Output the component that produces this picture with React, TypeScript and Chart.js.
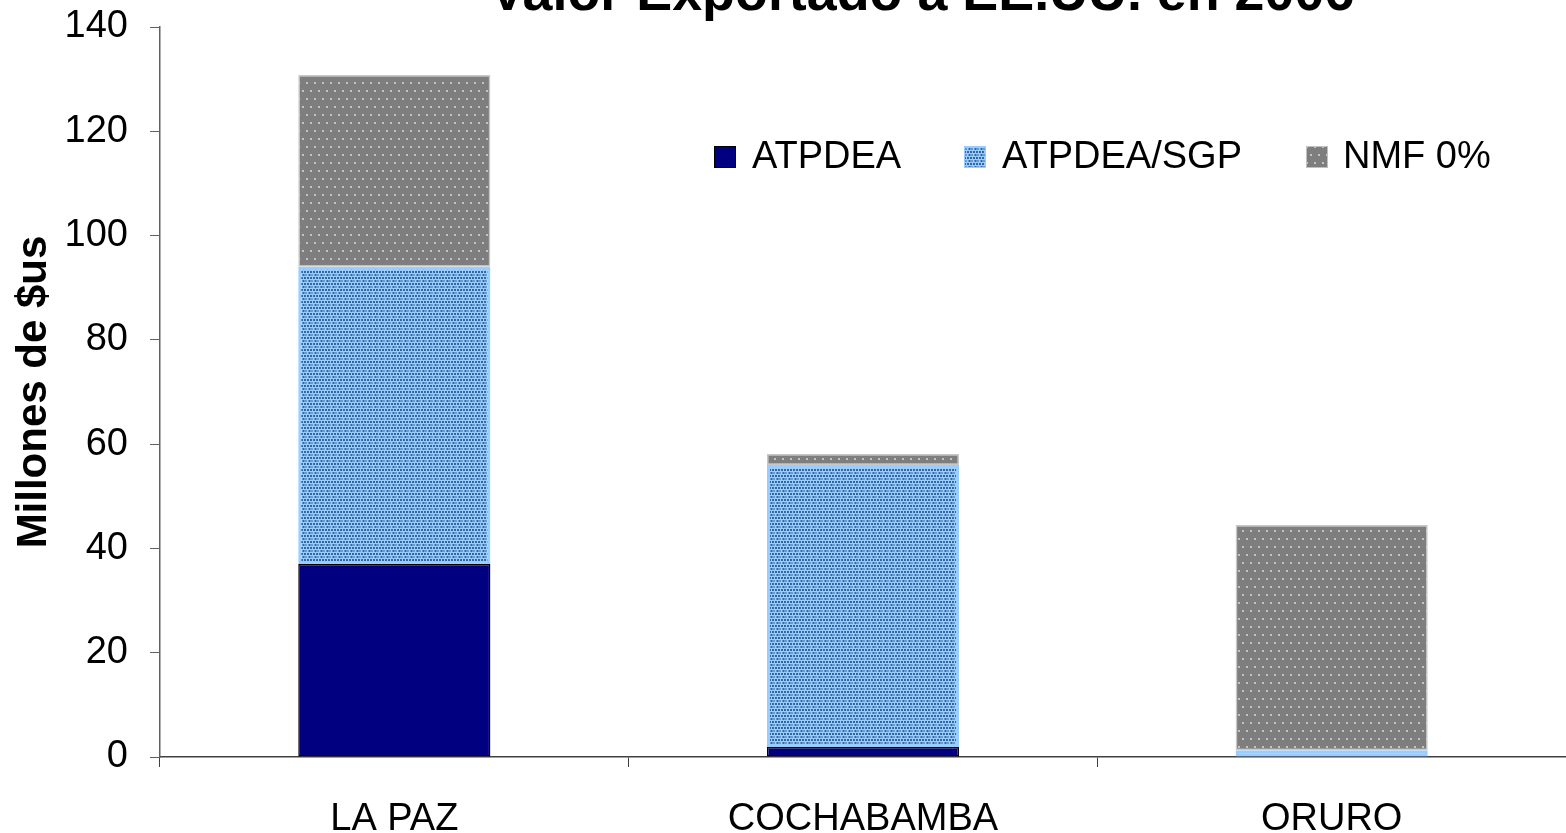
import React, { useEffect, useRef } from "react";
import { Chart, registerables } from "chart.js";

Chart.register(...registerables);

const TITLE = "Valor Exportado a EE.UU. en 2006";
const Y_TITLE = "Millones de $us";
const CATEGORIES = ["LA PAZ", "COCHABAMBA", "ORURO"];
const SERIES_NAMES = ["ATPDEA", "ATPDEA/SGP", "NMF 0%"];
const ATPDEA = [37.0, 1.9, 0];
const ATPDEA_SGP = [57.0, 54.1, 1.3];
const NMF = [36.8, 2.1, 43.2];
const Y_MIN = 0;
const Y_MAX = 140;
const Y_STEP = 20;

const FONT = "'Liberation Sans', Arial, sans-serif";

function makePattern(kind: "blue" | "gray"): CanvasPattern | string {
  const c = document.createElement("canvas");
  if (kind === "gray") {
    c.width = 8;
    c.height = 16;
    const g = c.getContext("2d")!;
    g.fillStyle = "#7e7e7e";
    g.fillRect(0, 0, 8, 16);
    g.fillStyle = "#c4c4c4";
    g.fillRect(2, 2, 2, 2);
    g.fillRect(6, 10, 2, 2);
  } else {
    c.width = 6;
    c.height = 6;
    const g = c.getContext("2d")!;
    g.fillStyle = "#99ccff";
    g.fillRect(0, 0, 6, 6);
    g.fillStyle = "#35679f";
    g.fillRect(1, 1, 2, 2);
    g.fillRect(4, 1, 2, 2);
    g.fillRect(2.5, 4, 2, 2);
    g.fillRect(5.5, 4, 0.5, 2);
    g.fillRect(0, 4, 0.5, 2);
  }
  const ctx = c.getContext("2d")!;
  return ctx.createPattern(c, "repeat") || (kind === "gray" ? "#808080" : "#99ccff");
}

const titlePlugin = {
  id: "cutTitle",
  afterDraw(chart: any) {
    const ctx = chart.ctx;
    ctx.save();
    ctx.font = `bold 100px ${FONT}`;
    const w = ctx.measureText(TITLE).width;
    const size = (100 * 865) / w;
    ctx.font = `bold ${size}px ${FONT}`;
    ctx.fillStyle = "#000";
    ctx.textAlign = "center";
    ctx.textBaseline = "alphabetic";
    ctx.fillText(TITLE, 922, 10);
    ctx.restore();
  },
};

const legendPlugin = {
  id: "inLegend",
  afterDraw(chart: any) {
    const ctx = chart.ctx;
    const items = [
      { box: 714, text: 752 },
      { box: 964, text: 1002 },
      { box: 1306, text: 1343 },
    ];
    const y = 157;
    ctx.save();
    ctx.font = `38px ${FONT}`;
    ctx.textBaseline = "middle";
    ctx.textAlign = "left";
    chart.data.datasets.forEach((ds: any, i: number) => {
      const it = items[i];
      ctx.fillStyle = ds.backgroundColor;
      ctx.fillRect(it.box, y - 11, 22, 22);
      ctx.lineWidth = 1;
      ctx.strokeStyle = i === 0 ? "#000" : i === 1 ? "#99ccff" : "#c0c0c0";
      ctx.strokeRect(it.box + 0.5, y - 10.5, 21, 21);
      ctx.fillStyle = "#000";
      ctx.fillText(ds.label, it.text, y + 1);
    });
    ctx.restore();
  },
};

export default function App() {
  const ref = useRef<HTMLCanvasElement | null>(null);
  useEffect(() => {
    if (!ref.current) return;
    const blue = makePattern("blue");
    const gray = makePattern("gray");
    const chart = new Chart(ref.current, {
      type: "bar",
      data: {
        labels: CATEGORIES,
        datasets: [
          {
            label: SERIES_NAMES[0],
            data: ATPDEA,
            backgroundColor: "#000080",
            borderColor: "#000000",
            borderWidth: 1.5,
            borderSkipped: false,
          },
          {
            label: SERIES_NAMES[1],
            data: ATPDEA_SGP,
            backgroundColor: blue as any,
            borderColor: "#99ccff",
            borderWidth: 3,
            borderSkipped: false,
          },
          {
            label: SERIES_NAMES[2],
            data: NMF,
            backgroundColor: gray as any,
            borderColor: "#c8c8c8",
            borderWidth: 1.5,
            borderSkipped: false,
          },
        ],
      },
      options: {
        responsive: false,
        animation: false,
        maintainAspectRatio: false,
        layout: { padding: { top: 27, left: 0, right: 0, bottom: 0 } },
        datasets: { bar: { barPercentage: 0.41, categoryPercentage: 1 } } as any,
        plugins: {
          legend: { display: false },
          title: { display: false },
          tooltip: { enabled: false },
        },
        scales: {
          x: {
            stacked: true,
            offset: true,
            grid: {
              display: true,
              offset: true,
              drawOnChartArea: false,
              drawTicks: true,
              tickLength: 10,
              color: "#404040",
              lineWidth: 1,
            },
            border: { display: true, color: "#404040", width: 1.5 },
            ticks: {
              color: "#000",
              font: { family: FONT, size: 38 },
              padding: 30,
              maxRotation: 0,
              autoSkip: false,
            },
            afterFit(scale: any) {
              scale.height = 76;
              scale.paddingLeft = 0;
              scale.paddingRight = 0;
            },
          },
          y: {
            stacked: true,
            min: Y_MIN,
            max: Y_MAX,
            grid: {
              display: true,
              drawOnChartArea: false,
              drawTicks: true,
              tickLength: 10,
              color: "#606060",
              lineWidth: 1,
            },
            border: { display: true, color: "#606060", width: 1.5 },
            ticks: {
              stepSize: Y_STEP,
              color: "#000",
              font: { family: FONT, size: 38 },
              padding: 22,
            },
            title: {
              display: true,
              text: Y_TITLE,
              color: "#000",
              font: { family: FONT, size: 42, weight: "bold" },
              padding: { top: 9, bottom: 0 },
            },
            afterFit(scale: any) {
              scale.width = 160;
              scale.paddingTop = 0;
              scale.paddingBottom = 0;
            },
          },
        },
      },
      plugins: [titlePlugin, legendPlugin],
    });
    return () => chart.destroy();
  }, []);
  return (
    <div style={{ position: "fixed", left: 0, top: 0, width: 1566, height: 833, background: "#fff" }}>
      <canvas ref={ref} width={1566} height={833} style={{ display: "block" }} />
    </div>
  );
}
